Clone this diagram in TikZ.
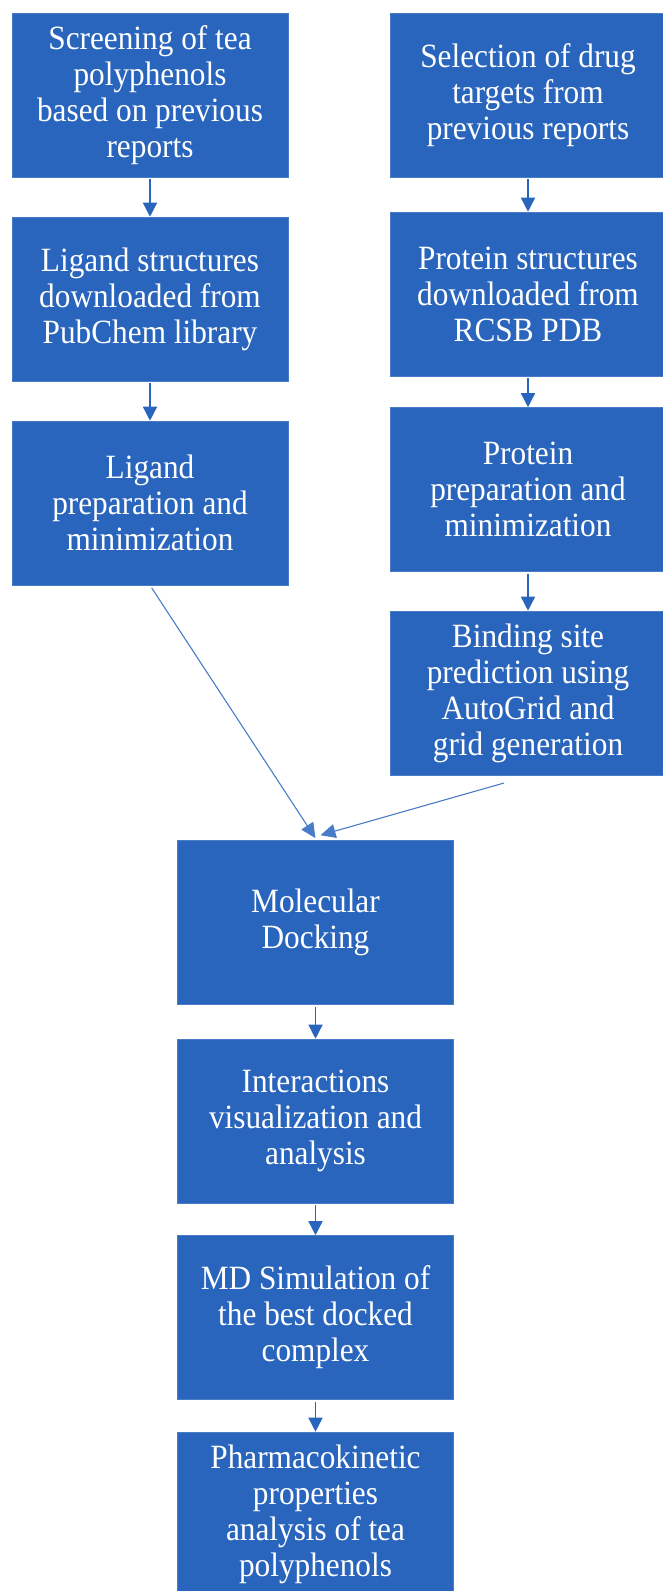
\documentclass[tikz,border=0pt]{standalone}
\usepackage{fontspec}
\setmainfont[FakeStretch=0.92]{Liberation Serif}
\usetikzlibrary{arrows.meta}
\definecolor{boxblue}{RGB}{41,101,189}
\tikzset{
	stepbox/.style={draw=boxblue!85, line width=0.6pt, fill=boxblue, text=white, align=center,
		minimum width=276pt, minimum height=164pt, inner sep=0pt,
		font=\fontsize{34}{36}\selectfont},
	flow/.style={draw=boxblue, line width=1.5pt, shorten <=2pt, -{Triangle[width=14pt,length=14pt]}},
	slant/.style={draw=boxblue!85, line width=1.1pt, -{Triangle[width=14pt,length=15pt]}}
}

\begin{document}
\begin{tikzpicture}[x=1pt, y=-1pt]
			%%%%% START %%%%%
			
			\useasboundingbox (0, 0) rectangle (662, 1591);
			
			% ligand side
			\node[stepbox] (lig1) at (150, 95) {Screening of tea\\polyphenols\\based on previous\\reports};
			\node[stepbox] (lig2) at (150, 299) {Ligand structures\\downloaded from\\PubChem library};
			\node[stepbox] (lig3) at (150, 503) {Ligand\\preparation and\\minimization};
			
			% protein side
			\node[stepbox] (prot1) at (528, 95) {Selection of drug\\targets from\\previous reports};
			\node[stepbox] (prot2) at (528, 294) {Protein structures\\downloaded from\\RCSB PDB};
			\node[stepbox] (prot3) at (528, 489.5) {Protein\\preparation and\\minimization};
			\node[stepbox] (prot4) at (528, 693) {Binding site\\prediction using\\AutoGrid and\\grid generation};
			
			% docking and after
			\node[stepbox] (dock) at (315.5, 922.5) {Molecular\\Docking};
			\node[stepbox] (inter) at (315.5, 1121) {Interactions\\visualization and\\analysis};
			\node[stepbox] (md) at (315.5, 1317.5) {MD Simulation of\\the best docked\\complex};
			\node[stepbox] (pk) at (315.5, 1514) {Pharmacokinetic\\properties\\analysis of tea\\polyphenols};
			
			\draw[flow] (lig1) -- (lig2);
			\draw[flow] (lig2) -- (lig3);
			\draw[flow] (prot1) -- (prot2);
			\draw[flow] (prot2) -- (prot3);
			\draw[flow] (prot3) -- (prot4);
			
			\coordinate (gridout) at (504, 783);
			\draw[slant, shorten <=3pt] (lig3.south) -- ([yshift=2pt]dock.north);
			\draw[slant] (gridout) -- ([xshift=5pt, yshift=5pt]dock.north);
			
			\draw[flow] (dock) -- (inter);
			\draw[flow] (inter) -- (md);
			\draw[flow] (md) -- (pk);
			
			%%%%% END %%%%%
\end{tikzpicture}
\end{document}
